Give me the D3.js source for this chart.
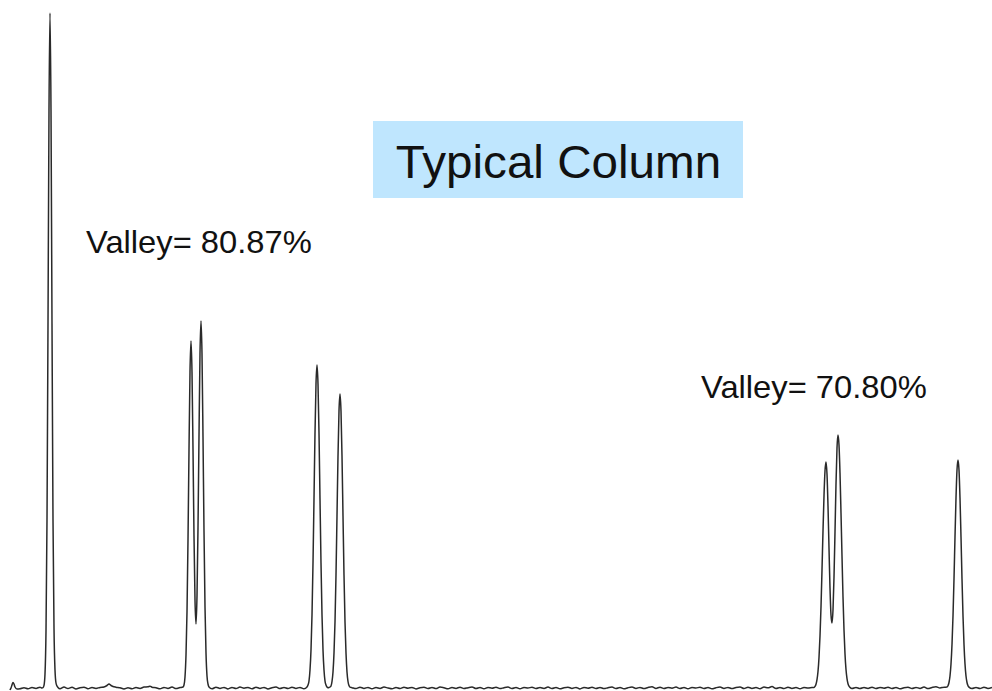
<!DOCTYPE html>
<html>
<head>
<meta charset="utf-8">
<script src="https://cdn.jsdelivr.net/npm/d3@7"></script>
<style>
  body { margin: 0; background: #fff; }
  svg { display: block; }
  text { font-family: "Liberation Sans", Arial, sans-serif; fill: #111; }
</style>
</head>
<body>
<div id="chart"></div>
<script>
//////////////////////////
// data: time (min), signal (mAU above baseline)
//////////////////////////
var peak1 = [[0.43,0.3],[0.44,2.6],[0.45,14],[0.46,57],[0.47,168],[0.48,364],[0.49,578],[0.50,675],
  [0.51,578],[0.52,364],[0.53,168],[0.54,60],[0.55,18],[0.56,5],[0.57,2],[0.58,0.5]];

var pair2 = [[1.83,1],[1.84,3],[1.85,11],[1.86,33],[1.87,76],[1.88,148],[1.89,238],[1.90,316],[1.91,347],
  [1.92,316],[1.93,239],[1.94,152],[1.95,88],[1.96,64],[1.97,92],[1.98,160],[1.99,252],[2.00,334],
  [2.01,367],[2.02,334],[2.03,251],[2.04,157],[2.05,81],[2.06,35],[2.07,12],[2.08,4],[2.09,1]];

var pair3 = [[3.07,1],[3.08,3],[3.09,7],[3.10,18],[3.11,38],[3.12,73],[3.13,125],[3.14,189],[3.15,255],
  [3.16,304],[3.17,323],[3.18,304],[3.19,255],[3.20,189],[3.21,125],[3.22,73],[3.23,38],[3.24,18],
  [3.25,7],[3.26,3],[3.27,1],[3.28,0.3],[3.29,0.5],[3.30,1],[3.31,2],[3.32,6.5],[3.33,16],[3.34,35],
  [3.35,66],[3.36,113],[3.37,172],[3.38,232],[3.39,277],[3.40,294],[3.41,277],[3.42,232],[3.43,172],
  [3.44,113],[3.45,66],[3.46,35],[3.47,16],[3.48,6.5],[3.49,2.4],[3.50,0.8]];

var pair4 = [[8.14,0.5],[8.15,1.6],[8.16,3.8],[8.17,8.4],[8.18,16.5],[8.19,30.5],[8.20,52],[8.21,81],
  [8.22,118],[8.23,157],[8.24,192],[8.25,217],[8.26,226],[8.27,214],[8.28,182],[8.29,140],[8.30,100],
  [8.31,73],[8.32,65],[8.33,78],[8.34,111],[8.35,156],[8.36,204],[8.37,240],[8.38,253],[8.39,243],
  [8.40,215],[8.41,175],[8.42,132],[8.43,91],[8.44,58],[8.45,34],[8.46,18.5],[8.47,9.4],[8.48,4.3],
  [8.49,1.8],[8.50,0.6]];

var peak5 = [[9.47,0.9],[9.48,2.3],[9.49,5.5],[9.50,12],[9.51,24],[9.52,43.5],[9.53,72],[9.54,109],
  [9.55,151],[9.56,190],[9.57,218],[9.58,228],[9.59,218],[9.60,190],[9.61,151],[9.62,109],[9.63,72],
  [9.64,43.5],[9.65,24],[9.66,12],[9.67,5.5],[9.68,2.3],[9.69,0.9]];

var noise = [[0.10,-2],[0.11,0],[0.12,3],[0.13,5.5],[0.14,4],[0.15,1],[0.17,-1],[0.20,-0.8],[0.24,0.3],
  [0.28,-0.8],[0.32,0.5],[0.36,-0.4],[0.40,0.8],[0.42,0],
  [0.60,-0.8],[0.64,0.9],[0.68,-0.5],[0.72,0.7],[0.76,-0.9],[0.80,0.3],[0.84,0.8],[0.88,-0.7],
  [0.92,0.5],[0.96,-0.4],[1.00,0.6],[1.04,1.0],[1.07,2.5],[1.09,4],[1.11,2.5],[1.13,1.5],[1.16,0.8],
  [1.20,0.2],[1.24,-0.9],[1.28,0.2],[1.32,-0.8],[1.36,0.5],[1.40,-0.4],[1.44,0.9],[1.48,1.2],
  [1.50,1.8],[1.52,0.8],[1.56,0.3],[1.60,-0.8],[1.64,0.6],[1.68,-0.4],[1.72,0.9],[1.76,-0.6],[1.80,0.4],
  [2.12,-0.8],[2.16,0.8],[2.20,-0.4],[2.24,0.6],[2.28,-0.9],[2.32,0.5],[2.36,-0.5],[2.40,0.9],
  [2.44,-0.2],[2.48,0.5],[2.52,-0.8],[2.56,0.8],[2.60,-0.4],[2.64,0.6],[2.68,-0.9],[2.72,0.3],
  [2.76,0.9],[2.80,-0.6],[2.84,0.5],[2.88,-0.5],[2.92,0.8],[2.96,-0.4],[3.00,0.6],[3.04,-0.8],
  [3.52,0.3],[3.56,-0.6],[3.60,0.8],[3.64,-0.4],[3.68,0.6],[3.72,-0.8],[3.76,0.5],[3.80,-0.4],
  [3.84,0.9],[3.88,0.0],[3.92,-0.8],[3.96,0.6],[4.00,-0.5],[4.04,0.8],[4.08,-0.2],[4.12,0.5],
  [4.16,-0.9],[4.20,0.3],[4.24,0.8],[4.28,-0.5],[4.32,0.6],[4.36,-0.6],[4.40,0.9],[4.44,0.2],
  [4.48,-0.8],[4.52,0.5],[4.56,-0.4],[4.60,0.8],[4.64,-0.6],[4.68,0.3],[4.72,1.0],[4.76,-0.5],
  [4.80,0.6],[4.84,-0.8],[4.88,0.5],[4.92,-0.2],[4.96,0.8],[5.00,-0.6],[5.04,0.3],[5.08,0.9],
  [5.12,-0.5],[5.16,0.6],[5.20,-0.8],[5.24,0.5],[5.28,0.0],[5.32,0.8],[5.36,-0.6],[5.40,0.5],
  [5.44,-0.4],[5.48,0.9],[5.52,-0.5],[5.56,0.6],[5.60,-0.8],[5.64,0.3],[5.68,0.8],[5.72,-0.4],
  [5.76,0.6],[5.80,-0.9],[5.84,0.5],[5.88,-0.2],[5.92,0.8],[5.96,-0.5],[6.00,0.6],[6.04,-0.6],
  [6.08,0.3],[6.12,0.9],[6.16,-0.5],[6.20,0.6],[6.24,-0.8],[6.28,0.3],[6.32,0.9],[6.36,-0.4],
  [6.40,0.6],[6.44,-0.6],[6.48,0.5],[6.52,1.2],[6.56,-0.4],[6.60,0.8],[6.64,-0.6],[6.68,0.5],
  [6.72,-0.2],[6.76,0.9],[6.80,-0.5],[6.84,0.6],[6.88,-0.8],[6.92,0.5],[6.96,0.0],[7.00,0.8],
  [7.04,-0.5],[7.08,0.6],[7.12,-0.8],[7.16,0.3],[7.20,0.9],[7.24,-0.4],[7.28,0.6],[7.32,-0.6],
  [7.36,0.5],[7.40,1.0],[7.44,-0.5],[7.48,0.8],[7.52,-0.4],[7.56,0.5],[7.60,-0.8],[7.64,0.9],
  [7.68,0.2],[7.72,1.4],[7.76,-0.5],[7.80,0.6],[7.84,-0.6],[7.88,0.8],[7.92,-0.4],[7.96,0.5],
  [8.00,-0.8],[8.04,0.6],[8.08,0.0],[8.12,0.4],
  [8.52,-0.5],[8.56,0.6],[8.60,-0.6],[8.64,0.5],[8.68,-0.4],[8.72,0.8],[8.76,-0.6],[8.80,0.5],
  [8.84,-0.2],[8.88,0.8],[8.92,-0.5],[8.96,0.6],[9.00,-0.8],[9.04,0.3],[9.08,0.8],[9.12,-0.5],
  [9.16,0.6],[9.20,-0.4],[9.24,0.9],[9.28,-0.6],[9.32,0.5],[9.36,1.2],[9.40,0.0],[9.44,0.8],
  [9.72,-0.5],[9.76,0.6],[9.80,-0.5],[9.84,0.8],[9.88,-0.4],[9.92,0.5]];

var peaks = [peak1, pair2, pair3, pair4, peak5];
var title = "Typical Column";
var valleyLabels = ["Valley= 80.87%", "Valley= 70.80%"];

//////////////////////////
// setup chromatogram
//////////////////////////
function chromatogram() {
  var width = 992,
      height = 691;

  var svg = d3.select("#chart").append("svg")
    .attr("width", width)
    .attr("height", height);

  // scales
  var x = d3.scaleLinear()
    .domain([0, 9.92])
    .range([0, width]);
  var y = d3.scaleLinear()
    .domain([0, 688])
    .range([688, 0]);

  // merge baseline noise with the peaks
  var spans = peaks.map(function(p) { return d3.extent(p, function(d) { return d[0]; }); });
  var base = noise.filter(function(d) {
    return !spans.some(function(s) { return d[0] >= s[0] && d[0] <= s[1]; });
  });
  var trace = base.concat(d3.merge(peaks)).sort(function(a, b) { return a[0] - b[0]; });

  var line = d3.line()
    .curve(d3.curveMonotoneX)
    .x(function(d) { return x(d[0]); })
    .y(function(d) { return y(d[1]); });

  svg.append("path")
    .datum(trace)
    .attr("fill", "none")
    .attr("stroke", "#2a2a2a")
    .attr("stroke-width", 1.5)
    .attr("stroke-linejoin", "round")
    .attr("d", line);

  // title box
  svg.append("rect")
    .attr("x", 373)
    .attr("y", 121)
    .attr("width", 370)
    .attr("height", 77)
    .attr("fill", "#bfe6fe");
  svg.append("text")
    .attr("transform", "translate(558.5,178) scale(1.035,1)")
    .attr("text-anchor", "middle")
    .style("font-size", "46px")
    .text(title);

  // valley annotations
  svg.append("text")
    .attr("transform", "translate(86,253) scale(1.056,1)")
    .style("font-size", "31px")
    .text(valleyLabels[0]);
  svg.append("text")
    .attr("transform", "translate(701,398) scale(1.056,1)")
    .style("font-size", "31px")
    .text(valleyLabels[1]);
}

chromatogram();
</script>
</body>
</html>
